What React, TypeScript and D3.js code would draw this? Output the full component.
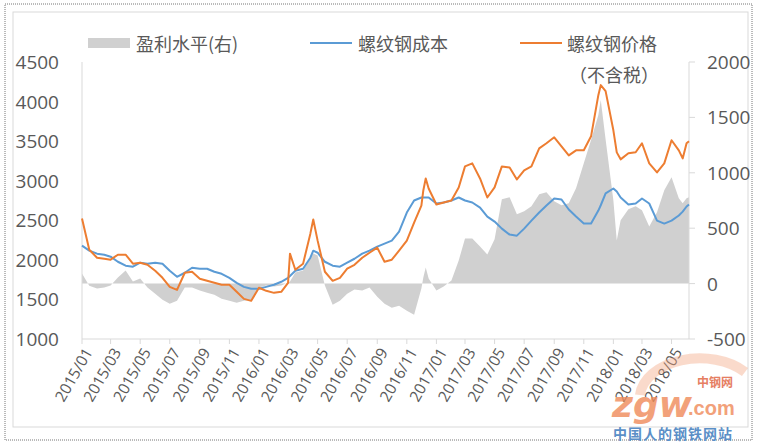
import React from "react";
import * as d3 from "d3";

const dates = [
  "2015-01-01","2015-01-16","2015-02-01","2015-02-16","2015-03-01","2015-03-16","2015-04-01","2015-04-16",
  "2015-05-01","2015-05-16","2015-06-01","2015-06-16","2015-07-01","2015-07-16","2015-08-01","2015-08-16",
  "2015-09-01","2015-09-16","2015-10-01","2015-10-16","2015-11-01","2015-11-16","2015-12-01","2015-12-16",
  "2016-01-01","2016-01-16","2016-02-01","2016-02-16","2016-03-01","2016-03-05","2016-03-16","2016-04-01",
  "2016-04-16","2016-04-22","2016-05-01","2016-05-16","2016-06-01","2016-06-16","2016-07-01","2016-07-16",
  "2016-08-01","2016-08-16","2016-09-01","2016-09-16","2016-10-01","2016-10-16","2016-11-01","2016-11-16",
  "2016-12-01","2016-12-05","2016-12-10","2016-12-16","2017-01-01","2017-01-16","2017-02-01","2017-02-16",
  "2017-03-01","2017-03-16","2017-04-01","2017-04-16","2017-05-01","2017-05-16","2017-06-01","2017-06-16",
  "2017-07-01","2017-07-16","2017-08-01","2017-08-16","2017-09-01","2017-09-16","2017-10-01","2017-10-16",
  "2017-11-01","2017-11-16","2017-12-01","2017-12-06","2017-12-16","2018-01-01","2018-01-08","2018-01-16",
  "2018-02-01","2018-02-16","2018-03-01","2018-03-16","2018-04-01","2018-04-16","2018-05-01","2018-05-16",
  "2018-05-24","2018-06-01","2018-06-06",
];

// 螺纹钢价格（不含税）
const price = [
  2522,2128,2027,2014,2002,2065,2065,1951,
  1964,1938,1862,1773,1659,1621,1837,1850,
  1761,1735,1710,1685,1685,1596,1507,1482,
  1647,1609,1583,1596,1710,2078,1875,1951,
  2331,2509,2243,1850,1735,1773,1888,1938,
  2027,2090,2154,1976,2002,2116,2243,2471,
  2686,2877,3029,2902,2699,2725,2750,2915,
  3181,3219,3029,2788,2915,3181,3168,3016,
  3130,3181,3409,3473,3549,3435,3320,3384,
  3384,3561,4081,4208,4132,3637,3358,3270,
  3346,3359,3473,3219,3105,3219,3511,3384,
  3282,3473,3498,
];

// 螺纹钢成本
const cost = [
  2179,2116,2078,2065,2040,1976,1926,1913,
  1964,1951,1964,1951,1862,1786,1837,1900,
  1888,1888,1850,1824,1773,1710,1659,1634,
  1634,1659,1685,1723,1773,1795,1862,1888,
  2027,2116,2090,1976,1926,1913,1964,2014,
  2078,2116,2167,2205,2243,2357,2598,2750,
  2788,2788,2788,2788,2712,2725,2750,2788,
  2750,2725,2661,2547,2484,2395,2319,2306,
  2395,2496,2598,2686,2775,2763,2636,2547,
  2458,2458,2623,2690,2839,2902,2864,2788,
  2699,2712,2775,2712,2496,2458,2496,2560,
  2610,2674,2700,
];

// 盈利水平(右)
const profit = [
  91,-20,-45,-36,-18,54,118,18,
  45,-36,-91,-145,-181,-154,-36,-36,
  -63,-82,-100,-136,-154,-172,-154,-145,
  -36,-18,-27,-18,9,20,100,118,
  226,272,254,-18,-190,-154,-91,-54,
  -63,-36,-118,-181,-217,-199,-245,-281,
  -45,54,145,45,-63,-27,27,208,
  408,408,335,263,400,761,779,625,
  652,697,806,824,743,707,725,860,
  1087,1295,1522,1658,1300,752,390,571,
  670,697,661,516,643,842,960,770,
  725,770,780,
];

const leftTicks = [1000, 1500, 2000, 2500, 3000, 3500, 4000, 4500];
const rightTicks = [-500, 0, 500, 1000, 1500, 2000];
const legendLabels = ["盈利水平(右)", "螺纹钢成本", "螺纹钢价格", "（不含税）"];

const W = 758, H = 444;
const X0 = 82, X1 = 689, Y0 = 62, Y1 = 339;
const ORANGE = "#ED7D31", BLUE = "#5B9BD5", GRAY = "#D0D0D0", TXT = "#595959", AX = "#D9D9D9";
const FONT = "'Open Sans', 'Noto Sans CJK SC', sans-serif";
const CJK = "'Noto Sans CJK SC', sans-serif";

export default function App() {
  const parse = d3.timeParse("%Y-%m-%d");
  const ds = dates.map((d) => parse(d) as Date);
  const x = d3.scaleTime().domain([ds[0], ds[ds.length - 1]]).range([X0, X1]);
  const yL = d3.scaleLinear().domain([1000, 4500]).range([Y1, Y0]);
  const yR = d3.scaleLinear().domain([-500, 2000]).range([Y1, Y0]);

  const idx = ds.map((_, i) => i);
  const area = d3.area<number>().x((i) => x(ds[i])).y0(yR(0)).y1((i) => yR(profit[i]));
  const lineCost = d3.line<number>().x((i) => x(ds[i])).y((i) => yL(cost[i]));
  const linePrice = d3.line<number>().x((i) => x(ds[i])).y((i) => yL(price[i]));

  const xTicks = d3.timeMonth.every(2)!.range(new Date(2015, 0, 1), new Date(2018, 5, 2));
  const fmt = d3.timeFormat("%Y/%m");

  return (
    <svg width={W} height={H} style={{ position: "absolute", left: 0, top: 0, background: "#fff" }}>
      <rect x={0} y={0} width={W} height={H} fill="#fff" />
      <rect x={5} y={4} width={747} height={436} fill="none" stroke="#777" strokeWidth={1} strokeDasharray="1,1" />
      <rect x={13} y={12} width={735} height={415} fill="none" stroke={AX} strokeWidth={1} />

      {/* legend */}
      <rect x={88} y={38} width={42} height={10} fill={GRAY} />
      <text x={136} y={43} dominantBaseline="central" fontSize={18} fill={TXT} fontFamily={CJK}>{legendLabels[0]}</text>
      <line x1={310} x2={352} y1={43} y2={43} stroke={BLUE} strokeWidth={2} />
      <text x={358} y={43} dominantBaseline="central" fontSize={18} fill={TXT} fontFamily={CJK}>{legendLabels[1]}</text>
      <line x1={520} x2={562} y1={43} y2={43} stroke={ORANGE} strokeWidth={2} />
      <text x={567} y={43} dominantBaseline="central" fontSize={18} fill={TXT} fontFamily={CJK}>{legendLabels[2]}</text>
      <text x={569} y={74} dominantBaseline="central" fontSize={18} fill={TXT} fontFamily={CJK}>{legendLabels[3]}</text>

      {/* profit area */}
      <path d={area(idx) || ""} fill={GRAY} stroke="none" />

      {/* axes */}
      <line x1={X0} x2={X0} y1={Y0} y2={Y1} stroke={AX} />
      <line x1={X1} x2={X1} y1={Y0} y2={Y1} stroke={AX} />
      <line x1={X0} x2={X1} y1={Y1} y2={Y1} stroke={AX} />
      {leftTicks.map((t) => (
        <text key={"l" + t} x={59} y={yL(t)} textAnchor="end" dominantBaseline="central" fontSize={19} fill={TXT} fontFamily={FONT}>{t}</text>
      ))}
      {rightTicks.map((t) => (
        <g key={"r" + t}>
          <line x1={X1} x2={X1 + 6} y1={yR(t)} y2={yR(t)} stroke={AX} />
          <text x={707} y={yR(t)} dominantBaseline="central" fontSize={19} fill={TXT} fontFamily={FONT}>{t}</text>
        </g>
      ))}
      {xTicks.map((d) => (
        <g key={+d}>
          <line x1={x(d)} x2={x(d)} y1={Y1} y2={Y1 + 5} stroke={AX} />
          <text
            transform={`translate(${x(d) + 6},${Y1 + 10}) rotate(-60)`}
            textAnchor="end"
            dominantBaseline="central"
            fontSize={15.5}
            fill={TXT}
            fontFamily={FONT}
          >{fmt(d)}</text>
        </g>
      ))}

      {/* lines */}
      <path d={lineCost(idx) || ""} fill="none" stroke={BLUE} strokeWidth={2} strokeLinejoin="round" />
      <path d={linePrice(idx) || ""} fill="none" stroke={ORANGE} strokeWidth={2} strokeLinejoin="round" />

      {/* watermark */}
      <g opacity={0.8}>
        <path d="M 640 395 A 60 40 0 0 1 745 372" fill="none" stroke="#F6A57F" strokeWidth={10} opacity={0.5} />
        <text x={612} y={417} fontSize={36} fontWeight="bold" fontStyle="italic" fill="#F08A5A" fontFamily="'DejaVu Sans', sans-serif">zgw</text>
        <text x={688} y={415} fontSize={20} fontWeight="bold" fill="#F08A5A" fontFamily="'Liberation Sans', sans-serif">.com</text>
        <text x={697} y={387} fontSize={12} fontWeight="bold" fill="#E0603A" fontFamily={CJK}>中钢网</text>
      </g>
      <text x={613} y={433} dominantBaseline="central" fontSize={14} fontWeight="bold" fill="#5B8FC7" fontFamily={CJK} letterSpacing={1}>中国人的钢铁网站</text>
    </svg>
  );
}
